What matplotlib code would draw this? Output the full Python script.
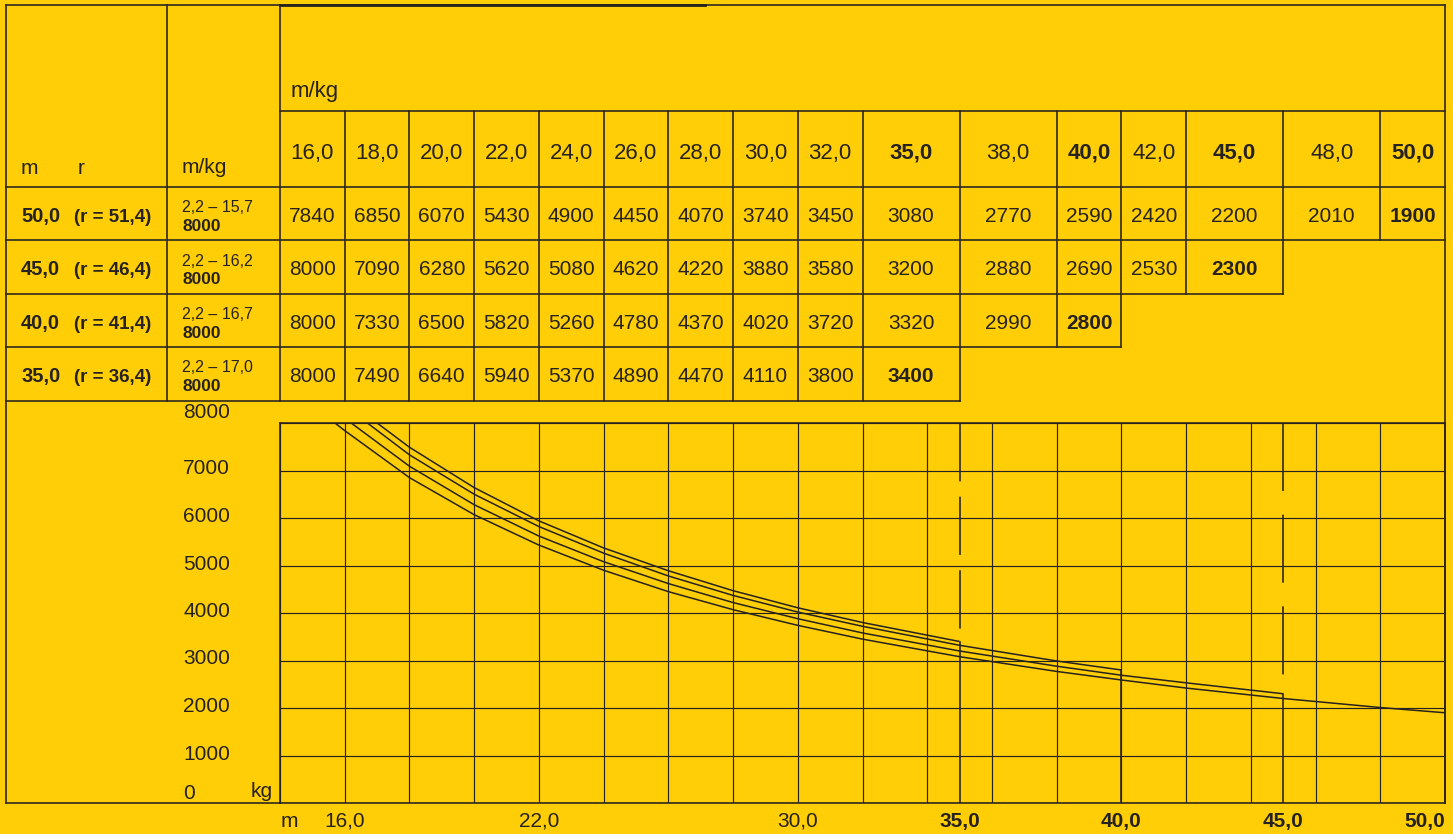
import matplotlib
matplotlib.use('Agg')
import matplotlib.pyplot as plt
from matplotlib.lines import Line2D
from matplotlib.transforms import Affine2D, blended_transform_factory
import numpy as np

# ---------------- data ----------------
radii = [16.0, 18.0, 20.0, 22.0, 24.0, 26.0, 28.0, 30.0, 32.0, 35.0,
         38.0, 40.0, 42.0, 45.0, 48.0, 50.0]
radius_labels = ['16,0', '18,0', '20,0', '22,0', '24,0', '26,0', '28,0', '30,0',
                 '32,0', '35,0', '38,0', '40,0', '42,0', '45,0', '48,0', '50,0']
bold_radii = [35.0, 40.0, 45.0, 50.0]

boom_lengths = [50.0, 45.0, 40.0, 35.0]
boom_labels = ['50,0', '45,0', '40,0', '35,0']
r_labels = ['(r = 51,4)', '(r = 46,4)', '(r = 41,4)', '(r = 36,4)']
range_labels = ['2,2 – 15,7', '2,2 – 16,2', '2,2 – 16,7', '2,2 – 17,0']
max_load_radius = [15.7, 16.2, 16.7, 17.0]
max_load = [8000, 8000, 8000, 8000]

loads_50 = [7840, 6850, 6070, 5430, 4900, 4450, 4070, 3740, 3450, 3080,
            2770, 2590, 2420, 2200, 2010, 1900]
loads_45 = [8000, 7090, 6280, 5620, 5080, 4620, 4220, 3880, 3580, 3200,
            2880, 2690, 2530, 2300]
loads_40 = [8000, 7330, 6500, 5820, 5260, 4780, 4370, 4020, 3720, 3320,
            2990, 2800]
loads_35 = [8000, 7490, 6640, 5940, 5370, 4890, 4470, 4110, 3800, 3400]
load_rows = [loads_50, loads_45, loads_40, loads_35]

y_ticks = [0, 1000, 2000, 3000, 4000, 5000, 6000, 7000, 8000]
y_tick_labels = ['0', '1000', '2000', '3000', '4000', '5000', '6000', '7000', '8000']
x_tick_values = [16.0, 22.0, 30.0, 35.0, 40.0, 45.0, 50.0]
x_tick_labels = ['16,0', '22,0', '30,0', '35,0', '40,0', '45,0', '50,0']

# ---------------- style / layout ----------------
BG = '#FFCE07'
INK = '#26221f'
W, H = 1453, 834
X0, X1 = 14.0, 50.0            # chart x-range (m)
CH_L, CH_R, CH_T, CH_B = 280, 1445, 423, 803
LEFT, COL2 = 6, 167
TOP, HDR_SUB, HDR_BOT = 5, 111, 187
ROW_H = 53.5
LW = 1.15

plt.rcParams['font.family'] = ['Liberation Sans', 'DejaVu Sans']
plt.rcParams['lines.scale_dashes'] = False

fig = plt.figure(figsize=(W / 100, H / 100), dpi=100, facecolor=BG)
ax = fig.add_axes([CH_L / W, 1 - CH_B / H, (CH_R - CH_L) / W, (CH_B - CH_T) / H])
ax.set_facecolor(BG)
ax.set_xlim(X0, X1)
ax.set_ylim(0, 8000)
ax.set_xticks(np.arange(X0, X1 + 0.1, 2))
ax.set_yticks(y_ticks)
ax.grid(True, color=INK, lw=0.85)
ax.tick_params(length=0, labelbottom=False, labelleft=False)
for s in ax.spines.values():
    s.set_color(INK)
    s.set_linewidth(LW)

pix = Affine2D().scale(1 / W, -1 / H).translate(0, 1) + fig.transFigure
xd_py = blended_transform_factory(ax.transData, pix)   # x data, y pixel


def px2x(px):
    return X0 + (px - CH_L) * (X1 - X0) / (CH_R - CH_L)


def seg(xs, ys, lw=LW):
    fig.add_artist(Line2D(xs, ys, transform=xd_py, color=INK, lw=lw,
                          solid_capstyle='projecting'))


def txt(x, y, s, size=15, weight='normal', ha='left', tr=xd_py):
    fig.text(x, y, s, transform=tr, fontsize=size, fontweight=weight,
             ha=ha, va='baseline', color=INK)


xl, xc2 = px2x(LEFT), px2x(COL2)
n_rows = len(load_rows)
row_tops = [HDR_BOT + j * ROW_H for j in range(n_rows)]
row_bots = [t + ROW_H for t in row_tops]
tbl_bot = row_bots[-1]

# ---------------- table frame ----------------
seg([xl, X1], [TOP, TOP])
seg([X0, px2x(705)], [TOP, TOP], lw=2.0)
seg([xl, xl], [TOP, CH_B])
seg([xc2, xc2], [TOP, tbl_bot])
seg([X0, X0], [TOP, tbl_bot])
seg([X1, X1], [TOP, CH_B])
seg([X0, X1], [HDR_SUB, HDR_SUB])
seg([xl, X1], [HDR_BOT, HDR_BOT])
seg([xl, X0], [CH_B, CH_B])

for j, row in enumerate(load_rows):
    seg([xl, radii[len(row) - 1]], [row_bots[j], row_bots[j]])

for i, r in enumerate(radii[:-1]):
    last = max(j for j, row in enumerate(load_rows) if len(row) > i)
    seg([r, r], [HDR_SUB, row_bots[last]])

# ---------------- table text ----------------
txt(px2x(291), 97, 'm/kg', size=16)
txt(px2x(21), 174, 'm', size=15)
txt(px2x(78), 174, 'r', size=15)
txt(px2x(182), 173, 'm/kg', size=15)

col_left = [X0] + radii[:-1]
for i, (r, lab) in enumerate(zip(radii, radius_labels)):
    cx = (col_left[i] + r) / 2
    txt(cx, 159, lab, size=16, weight='bold' if r in bold_radii else 'normal', ha='center')

for j, row in enumerate(load_rows):
    base = row_tops[j] + ROW_H / 2 + 8
    txt(px2x(21), base, boom_labels[j], size=14.5, weight='bold')
    txt(px2x(74), base, r_labels[j], size=13.5, weight='bold')
    txt(px2x(182), row_tops[j] + 25, range_labels[j], size=11.5)
    txt(px2x(182), row_tops[j] + 44, f'{max_load[j]}', size=12.5, weight='bold')
    for i, v in enumerate(row):
        cx = (col_left[i] + radii[i]) / 2
        txt(cx, base, f'{v}', size=15,
            weight='bold' if i == len(row) - 1 else 'normal', ha='center')

# ---------------- chart ----------------
for j, row in enumerate(load_rows):
    xs = [max_load_radius[j]] + [r for r in radii[:len(row)] if r > max_load_radius[j]]
    ys = [max_load[j]] + [v for r, v in zip(radii[:len(row)], row) if r > max_load_radius[j]]
    ax.plot(xs, ys, color=INK, lw=1.1, solid_capstyle='butt')
    end_r, end_v = radii[len(row) - 1], row[-1]
    if end_r < X1:
        ax.plot([end_r, end_r], [0, end_v], color=INK, lw=LW)

# dashed limit markers above curve ends at 35 m and 45 m
for j, dash in ((3, (0, (42, 11))), (1, (0, (49, 17)))):
    row = load_rows[j]
    end_r = radii[len(row) - 1]
    ax.plot([end_r, end_r], [8000, row[-1]], color=INK, lw=LW, linestyle=dash)

# y labels
ylab_tr = blended_transform_factory(fig.transFigure, ax.transData)
for v, lab in zip(y_ticks, y_tick_labels):
    off = 4
    if v == 8000:
        off = -5
    elif v == 0:
        off = -4
    fig.text(183 / W, v, lab, fontsize=15, color=INK, ha='left', va='baseline',
             transform=ylab_tr + Affine2D().translate(0, -off))

txt(px2x(273), 797, 'kg', size=15, ha='right')
txt(px2x(281), 827, 'm', size=15)
for v, lab in zip(x_tick_values, x_tick_labels):
    txt(v, 827, lab, size=15, weight='bold' if v in bold_radii else 'normal',
        ha='right' if v == X1 else 'center')

fig.savefig('out.png', dpi=100, facecolor=BG)
